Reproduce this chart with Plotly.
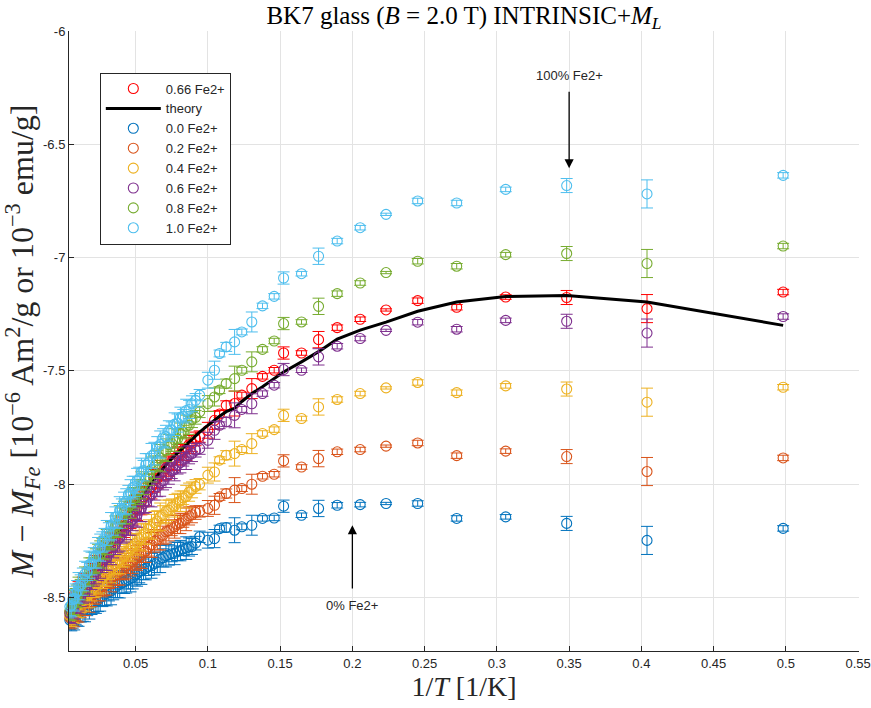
import plotly.graph_objects as go

# 1/T values [1/K]
X = [0.0035, 0.0045, 0.0055, 0.0065, 0.0075, 0.0085, 0.0095, 0.0105, 0.012, 0.0135,
     0.015, 0.0165, 0.018, 0.0195, 0.021, 0.0225, 0.024, 0.0255, 0.027, 0.0285,
     0.030, 0.0315, 0.033, 0.0345, 0.036, 0.0375, 0.039, 0.0405, 0.042, 0.0435,
     0.045, 0.0465, 0.048, 0.0495, 0.051, 0.0525, 0.054, 0.0555, 0.057, 0.059,
     0.061, 0.063, 0.065, 0.067, 0.069, 0.071, 0.073, 0.075, 0.077, 0.079,
     0.081, 0.083, 0.085, 0.087, 0.089, 0.0915,
     0.0943, 0.1000, 0.1046, 0.1081, 0.1127, 0.1185, 0.1235, 0.1304, 0.1378, 0.1459,
     0.1524, 0.1648, 0.1766, 0.1895, 0.2054, 0.2233, 0.2452, 0.2722, 0.3061, 0.3483,
     0.4039, 0.4981]

ERR = [0.03, 0.04, 0.05, 0.045, 0.055, 0.04, 0.05, 0.06, 0.045, 0.05,
       0.055, 0.04, 0.06, 0.05, 0.045, 0.055, 0.05, 0.06, 0.045, 0.05,
       0.055, 0.04, 0.06, 0.05, 0.045, 0.055, 0.06, 0.045, 0.05, 0.055,
       0.04, 0.06, 0.05, 0.045, 0.055, 0.05, 0.06, 0.045, 0.05, 0.04,
       0.055, 0.05, 0.045, 0.06, 0.04, 0.05, 0.045, 0.035, 0.05, 0.04,
       0.045, 0.03, 0.05, 0.04, 0.035, 0.03,
       0.025, 0.035, 0.04, 0.015, 0.02, 0.055, 0.013, 0.044, 0.012, 0.012,
       0.027, 0.01, 0.036, 0.012, 0.01, 0.005, 0.012, 0.012, 0.01, 0.031,
       0.062, 0.012]

Y_066 = [-8.58, -8.565, -8.56, -8.54, -8.535, -8.515, -8.51, -8.49, -8.485, -8.46,
         -8.45, -8.43, -8.425, -8.40, -8.395, -8.37, -8.365, -8.34, -8.335, -8.31,
         -8.305, -8.28, -8.275, -8.25, -8.245, -8.22, -8.215, -8.19, -8.185, -8.16,
         -8.155, -8.135, -8.13, -8.11, -8.105, -8.08, -8.075, -8.055, -8.045, -8.025,
         -8.01, -7.985, -7.975, -7.955, -7.945, -7.93, -7.92, -7.90, -7.89, -7.875,
         -7.87, -7.85, -7.845, -7.825, -7.82, -7.80,
         -7.79, -7.762, -7.718, -7.69, -7.652, -7.644, -7.607, -7.578, -7.524, -7.497,
         -7.421, -7.421, -7.362, -7.309, -7.272, -7.231, -7.190, -7.219, -7.174, -7.176,
         -7.225, -7.152]

THEORY = [-8.58, -8.565, -8.552, -8.54, -8.527, -8.515, -8.502, -8.49, -8.47, -8.455,
          -8.44, -8.425, -8.41, -8.392, -8.375, -8.36, -8.345, -8.33, -8.315, -8.30,
          -8.285, -8.27, -8.255, -8.24, -8.225, -8.21, -8.195, -8.18, -8.165, -8.152,
          -8.14, -8.125, -8.11, -8.095, -8.08, -8.067, -8.055, -8.042, -8.03, -8.01,
          -7.993, -7.98, -7.963, -7.947, -7.93, -7.915, -7.90, -7.887, -7.875, -7.862,
          -7.85, -7.837, -7.825, -7.812, -7.80, -7.785,
          -7.77, -7.74, -7.715, -7.70, -7.68, -7.665, -7.635, -7.60, -7.57, -7.535,
          -7.505, -7.46, -7.415, -7.36, -7.32, -7.285, -7.237, -7.196, -7.172, -7.167,
          -7.196, -7.299]

Y_00 = [-8.60, -8.60, -8.597, -8.59, -8.588, -8.578, -8.575, -8.567, -8.563, -8.555,
        -8.552, -8.54, -8.535, -8.525, -8.522, -8.515, -8.512, -8.50, -8.495, -8.485,
        -8.482, -8.475, -8.472, -8.46, -8.455, -8.445, -8.442, -8.435, -8.432, -8.425,
        -8.422, -8.415, -8.412, -8.40, -8.395, -8.385, -8.382, -8.375, -8.372, -8.363,
        -8.36, -8.35, -8.345, -8.33, -8.325, -8.315, -8.312, -8.307, -8.305, -8.297,
        -8.293, -8.285, -8.282, -8.277, -8.275, -8.26,
        -8.232, -8.247, -8.240, -8.196, -8.191, -8.203, -8.188, -8.181, -8.151, -8.149,
        -8.097, -8.137, -8.107, -8.093, -8.090, -8.085, -8.085, -8.151, -8.144, -8.173,
        -8.248, -8.195]

Y_02 = [-8.60, -8.59, -8.588, -8.577, -8.574, -8.562, -8.558, -8.548, -8.544, -8.53,
        -8.524, -8.51, -8.505, -8.49, -8.485, -8.47, -8.465, -8.455, -8.452, -8.44,
        -8.434, -8.42, -8.415, -8.405, -8.402, -8.39, -8.385, -8.375, -8.372, -8.36,
        -8.355, -8.345, -8.343, -8.33, -8.325, -8.315, -8.312, -8.30, -8.295, -8.277,
        -8.268, -8.25, -8.245, -8.23, -8.225, -8.21, -8.205, -8.192, -8.188, -8.177,
        -8.173, -8.16, -8.155, -8.14, -8.135, -8.125,
        -8.12, -8.107, -8.093, -8.056, -8.041, -8.026, -8.019, -8.000, -7.965, -7.956,
        -7.897, -7.924, -7.887, -7.857, -7.847, -7.832, -7.818, -7.874, -7.854, -7.878,
        -7.944, -7.884]

Y_04 = [-8.59, -8.58, -8.578, -8.565, -8.56, -8.545, -8.54, -8.527, -8.522, -8.51,
        -8.505, -8.49, -8.485, -8.465, -8.455, -8.44, -8.435, -8.42, -8.415, -8.40,
        -8.395, -8.38, -8.375, -8.36, -8.355, -8.34, -8.335, -8.32, -8.315, -8.30,
        -8.295, -8.28, -8.275, -8.262, -8.258, -8.24, -8.235, -8.22, -8.215, -8.197,
        -8.188, -8.17, -8.162, -8.143, -8.135, -8.12, -8.115, -8.10, -8.095, -8.08,
        -8.075, -8.06, -8.055, -8.035, -8.025, -8.01,
        -8.00, -7.960, -7.946, -7.894, -7.872, -7.865, -7.847, -7.821, -7.776, -7.759,
        -7.696, -7.710, -7.659, -7.626, -7.600, -7.575, -7.551, -7.596, -7.566, -7.580,
        -7.638, -7.572]

Y_06 = [-8.58, -8.57, -8.565, -8.545, -8.54, -8.525, -8.52, -8.50, -8.495, -8.475,
        -8.465, -8.445, -8.435, -8.415, -8.405, -8.385, -8.375, -8.355, -8.345, -8.33,
        -8.325, -8.305, -8.295, -8.275, -8.265, -8.245, -8.235, -8.215, -8.205, -8.19,
        -8.185, -8.165, -8.155, -8.14, -8.135, -8.115, -8.105, -8.085, -8.075, -8.057,
        -8.045, -8.02, -8.01, -7.993, -7.985, -7.965, -7.955, -7.94, -7.935, -7.915,
        -7.905, -7.89, -7.885, -7.87, -7.865, -7.85,
        -7.843, -7.806, -7.762, -7.74, -7.725, -7.696, -7.67, -7.645, -7.60, -7.563,
        -7.494, -7.497, -7.438, -7.391, -7.357, -7.321, -7.285, -7.316, -7.277, -7.281,
        -7.333, -7.260]

Y_08 = [-8.57, -8.56, -8.55, -8.53, -8.525, -8.50, -8.495, -8.47, -8.465, -8.44,
        -8.42, -8.41, -8.385, -8.375, -8.345, -8.34, -8.315, -8.31, -8.285, -8.28,
        -8.255, -8.25, -8.225, -8.215, -8.185, -8.18, -8.155, -8.15, -8.125, -8.12,
        -8.095, -8.09, -8.065, -8.06, -8.035, -8.03, -8.005, -8.00, -7.975, -7.965,
        -7.935, -7.925, -7.895, -7.885, -7.855, -7.85, -7.825, -7.82, -7.805, -7.80,
        -7.775, -7.77, -7.745, -7.74, -7.715, -7.705,
        -7.681, -7.644, -7.615, -7.585, -7.556, -7.534, -7.497, -7.460, -7.405, -7.368,
        -7.291, -7.284, -7.215, -7.159, -7.112, -7.066, -7.016, -7.038, -6.987, -6.982,
        -7.026, -6.949]

Y_10 = [-8.56, -8.54, -8.535, -8.51, -8.505, -8.48, -8.475, -8.45, -8.445, -8.42,
        -8.395, -8.385, -8.355, -8.35, -8.325, -8.315, -8.285, -8.28, -8.255, -8.245,
        -8.215, -8.21, -8.185, -8.175, -8.145, -8.14, -8.115, -8.11, -8.085, -8.075,
        -8.045, -8.04, -8.015, -8.01, -7.985, -7.975, -7.945, -7.94, -7.915, -7.905,
        -7.875, -7.865, -7.835, -7.825, -7.795, -7.79, -7.765, -7.76, -7.735, -7.73,
        -7.705, -7.70, -7.675, -7.67, -7.645, -7.63,
        -7.607, -7.541, -7.497, -7.423, -7.394, -7.372, -7.328, -7.284, -7.213, -7.171,
        -7.090, -7.071, -6.994, -6.927, -6.868, -6.809, -6.750, -6.759, -6.699, -6.682,
        -6.719, -6.637]

SERIES = [
    ("0.0 Fe2+", Y_00, "#0072BD"),
    ("0.2 Fe2+", Y_02, "#D95319"),
    ("0.4 Fe2+", Y_04, "#EDB120"),
    ("0.6 Fe2+", Y_06, "#7E2F8E"),
    ("0.8 Fe2+", Y_08, "#77AC30"),
    ("1.0 Fe2+", Y_10, "#4DBEEE"),
]

X_TICKS = [0.05, 0.1, 0.15, 0.2, 0.25, 0.3, 0.35, 0.4, 0.45, 0.5, 0.55]
X_TICKTEXT = ["0.05", "0.1", "0.15", "0.2", "0.25", "0.3", "0.35", "0.4", "0.45", "0.5", "0.55"]
Y_TICKS = [-8.5, -8, -7.5, -7, -6.5, -6]
Y_TICKTEXT = ["-8.5", "-8", "-7.5", "-7", "-6.5", "-6"]


def err_trace(name, y, color):
    return go.Scatter(
        x=X, y=y, name=name, mode="markers",
        marker=dict(symbol="circle-open", size=10, color=color, line=dict(width=1.1, color=color)),
        error_y=dict(type="data", array=ERR, visible=True, color=color, thickness=1, width=6),
        cliponaxis=False,
    )


fig = go.Figure()
fig.add_trace(err_trace("0.66 Fe2+", Y_066, "#FF0000"))
fig.add_trace(go.Scatter(x=X, y=THEORY, name="theory", mode="lines",
                         line=dict(color="black", width=3)))
for name, y, color in SERIES:
    fig.add_trace(err_trace(name, y, color))

axis_common = dict(
    showline=True, linecolor="#262626", linewidth=1, mirror=False,
    ticks="inside", ticklen=5, tickcolor="#262626",
    showgrid=True, gridcolor="#e3e3e3", gridwidth=1, zeroline=False,
    automargin=False,
    tickfont=dict(family="Liberation Sans, Arial, sans-serif", size=13, color="#262626"),
)

serif = "Liberation Serif, DejaVu Serif, serif"

fig.update_layout(
    width=871, height=708,
    margin=dict(l=69, r=12, t=31, b=57),
    paper_bgcolor="white", plot_bgcolor="white",
    title=dict(
        text="BK7 glass (<i>B</i> = 2.0 T) INTRINSIC+<i>M</i><sub><i>L</i></sub>",
        x=0.5, xref="paper", y=0.979, yref="container", xanchor="center", yanchor="middle",
        font=dict(family=serif, size=25, color="black"),
    ),
    xaxis=dict(
        range=[0.0039, 0.5506], tickvals=X_TICKS, ticktext=X_TICKTEXT,
        title=dict(text="1/<i>T</i> [1/K]", standoff=4,
                   font=dict(family=serif, size=28, color="#262626")),
        **axis_common,
    ),
    yaxis=dict(
        range=[-8.736, -6.0], tickvals=Y_TICKS, ticktext=Y_TICKTEXT,
        title=dict(text="<i>M</i> − <i>M</i><sub><i>Fe</i></sub> [10<sup>−6</sup> Am<sup>2</sup>/g or 10<sup>−3</sup> emu/g]",
                   standoff=2,
                   font=dict(family=serif, size=32, color="#262626")),
        **axis_common,
    ),
    legend=dict(
        x=0.039, y=0.933, xanchor="left", yanchor="top",
        bgcolor="white", bordercolor="#262626", borderwidth=1,
        font=dict(family="Liberation Sans, Arial, sans-serif", size=13, color="#262626"),
        itemwidth=55,
    ),
    showlegend=True,
)

ann_font = dict(family="Liberation Sans, Arial, sans-serif", size=13, color="#262626")
fig.add_annotation(x=0.35, y=-6.606, ax=0.35, ay=-6.262, xref="x", yref="y", axref="x", ayref="y",
                   showarrow=True, arrowhead=2, arrowsize=1.4, arrowwidth=1.3, arrowcolor="black", text="")
fig.add_annotation(x=0.35, y=-6.196, xref="x", yref="y", text="100% Fe2+", showarrow=False, font=ann_font)
fig.add_annotation(x=0.2, y=-8.181, ax=0.2, ay=-8.467, xref="x", yref="y", axref="x", ayref="y",
                   showarrow=True, arrowhead=2, arrowsize=1.4, arrowwidth=1.3, arrowcolor="black", text="")
fig.add_annotation(x=0.2, y=-8.533, xref="x", yref="y", text="0% Fe2+", showarrow=False, font=ann_font)

fig.write_html("out.html")
